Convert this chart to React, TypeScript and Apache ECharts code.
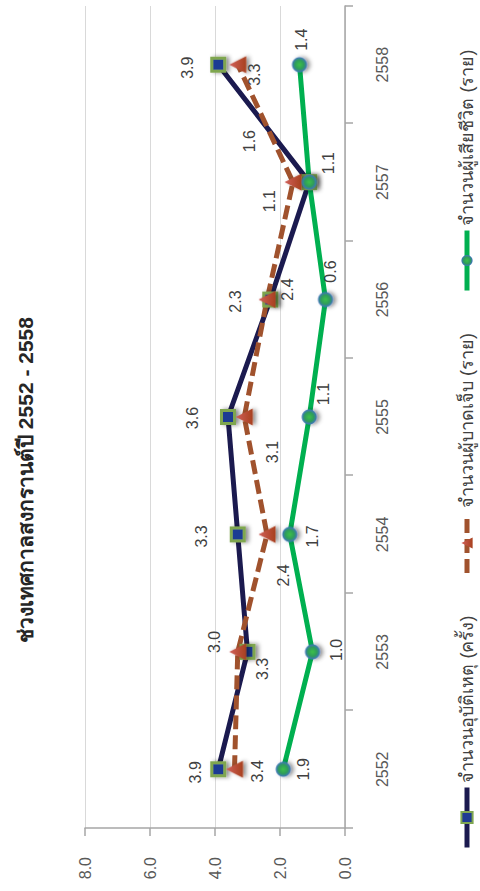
import React, { useEffect, useRef } from "react";
import * as echarts from "echarts";

const years = ["2552", "2553", "2554", "2555", "2556", "2557", "2558"];
const accidents = [3.9, 3.0, 3.3, 3.6, 2.3, 1.1, 3.9];
const injured = [3.4, 3.3, 2.4, 3.1, 2.4, 1.6, 3.3];
const deaths = [1.9, 1.0, 1.7, 1.1, 0.6, 1.1, 1.4];
const seriesNames = [
  "จำนวนอุบัติเหตุ (ครั้ง)",
  "จำนวนผู้บาดเจ็บ (ราย)",
  "จำนวนผู้เสียชีวิต (ราย)",
];
const titleText = "ช่วงเทศกาลสงกรานต์ปี 2552 - 2558";
const valueMin = 0;
const valueMax = 8;
const valueStep = 2;

// label placement (style only), in unrotated chart pixels [dx, dy]
const accidentsLabelOffset = [[-3, -23], [10, -33], [-2, -36], [-1, -36], [-2, -35], [-19, -40], [-3, -31]];
const injuredLabelOffset = [[-2, 23], [-17, 25], [-41, 16], [-35, 28], [10, 20], [41, -44], [-10, 17]];
const deathsLabelOffset = [[0, 20], [2, 24], [-2, 23], [23, 14], [28, 5], [19, 19], [25, 2]];

const W = 891;
const H = 480;
const FONT = "'Liberation Sans', Arial, 'Noto Sans', sans-serif";

export default function App() {
  const ref = useRef<HTMLDivElement>(null);

  useEffect(() => {
    if (!ref.current) return;
    const chart = echarts.init(ref.current, null, { renderer: "svg" });
    const labelBase = {
      show: true,
      position: "inside",
      color: "#404040",
      fontSize: 16,
      fontFamily: FONT,
      formatter: (p: any) => Number(p.value).toFixed(1),
    };
    const mk = (vals: number[], offs: number[][]) =>
      vals.map((v, i) => ({ value: v, label: { offset: offs[i] } }));
    const shadow = {
      shadowBlur: 4,
      shadowColor: "rgba(0,0,0,0.45)",
      shadowOffsetY: 3,
    };

    chart.setOption({
      animation: false,
      textStyle: { fontFamily: FONT },
      title: {
        text: titleText,
        left: 411,
        top: 15,
        padding: 0,
        textAlign: "center",
        textStyle: { fontSize: 21, fontWeight: "bold", color: "#262626", fontFamily: FONT },
      },
      legend: {
        left: 36,
        top: 453,
        itemWidth: 60,
        itemHeight: 14,
        itemGap: 40,
        lineStyle: { width: 5 },
        textStyle: { fontSize: 18, color: "#404040", fontFamily: FONT },
        data: seriesNames,
      },
      grid: { left: 63, right: 6, top: 85, bottom: 135 },
      xAxis: {
        type: "category",
        data: years,
        boundaryGap: true,
        axisLine: { show: true, lineStyle: { color: "#a6a6a6", width: 1.5 } },
        axisTick: { show: true, length: 8, lineStyle: { color: "#a6a6a6", width: 1.5 } },
        axisLabel: { color: "#595959", fontSize: 16, margin: 29, fontFamily: FONT },
        splitLine: { show: false },
      },
      yAxis: {
        type: "value",
        min: valueMin,
        max: valueMax,
        interval: valueStep,
        axisLine: { show: true, lineStyle: { color: "#a6a6a6", width: 1.5 } },
        axisTick: { show: true, length: 8, lineStyle: { color: "#a6a6a6", width: 1.5 } },
        axisLabel: {
          color: "#595959",
          fontSize: 16,
          margin: 29,
          fontFamily: FONT,
          formatter: (v: number) => v.toFixed(1),
        },
        splitLine: { show: true, lineStyle: { color: "#d9d9d9", width: 1 } },
      },
      series: [
        {
          name: seriesNames[0],
          type: "line",
          data: mk(accidents, accidentsLabelOffset),
          symbol: "rect",
          symbolSize: 13,
          lineStyle: { color: "#1b1a4f", width: 5 },
          itemStyle: {
            color: "#1f3a93",
            borderColor: "#7fa650",
            borderWidth: 3,
            ...shadow,
          },
          label: labelBase,
        },
        {
          name: seriesNames[1],
          type: "line",
          data: mk(injured, injuredLabelOffset),
          symbol: "triangle",
          symbolSize: 17,
          lineStyle: { color: "#a0522d", width: 5, type: [14, 6] },
          itemStyle: {
            color: new echarts.graphic.LinearGradient(0, 0, 0, 1, [
              { offset: 0, color: "#d0605a" },
              { offset: 1, color: "#a8401e" },
            ]),
            ...shadow,
          },
          label: labelBase,
        },
        {
          name: seriesNames[2],
          type: "line",
          data: mk(deaths, deathsLabelOffset),
          symbol: "circle",
          symbolSize: 15,
          lineStyle: { color: "#00b050", width: 5 },
          itemStyle: {
            color: new echarts.graphic.RadialGradient(0.5, 0.5, 0.5, [
              { offset: 0, color: "#3cc04a" },
              { offset: 0.6, color: "#2e9c5a" },
              { offset: 1, color: "#3f72c0" },
            ]),
            ...shadow,
          },
          label: labelBase,
        },
      ],
    });
    return () => chart.dispose();
  }, []);

  return (
    <div
      style={{
        position: "fixed",
        left: 0,
        top: 0,
        width: H,
        height: W,
        overflow: "hidden",
        background: "#fff",
      }}
    >
      <div
        ref={ref}
        style={{
          position: "absolute",
          left: 0,
          top: 0,
          width: W,
          height: H,
          transformOrigin: "0 0",
          transform: `translateY(${W}px) rotate(-90deg)`,
        }}
      />
    </div>
  );
}
